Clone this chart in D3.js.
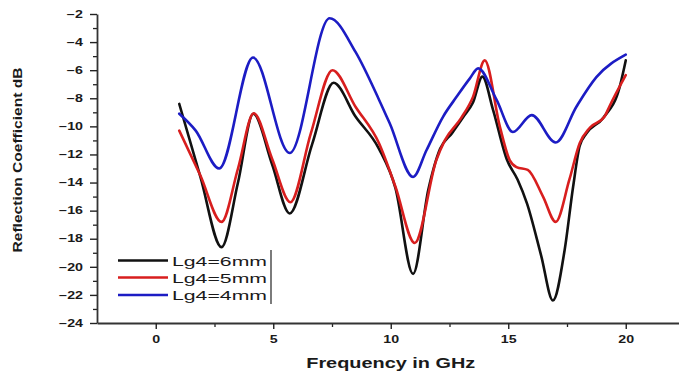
<!DOCTYPE html>
<html>
<head>
<meta charset="utf-8">
<script src="https://cdn.jsdelivr.net/npm/d3@7"></script>
<style>
  html, body { margin: 0; padding: 0; background: #fff; }
  svg { display: block; }
  text { font-family: "Liberation Sans", Arial, sans-serif; fill: #1a1a1a; }
</style>
</head>
<body>
<svg id="chart" width="679" height="377"></svg>
<script>
// Frequency (GHz) / reflection coefficient (dB) for each Lg4 length
const freq6mm = [1.0, 1.9, 2.8, 3.5, 4.15, 4.95, 5.7, 6.65, 7.57, 8.5, 9.5, 10.2, 10.95, 11.6, 12.1, 12.6, 13.1, 13.5, 13.9, 14.35, 14.95, 15.4, 15.8, 16.4, 16.9, 17.4, 17.76, 18.04, 18.33, 19.04, 19.74, 20.0];
const s11_6mm = [-8.4, -13.6, -18.6, -14.0, -9.1, -12.7, -16.2, -11.3, -6.9, -9.3, -11.6, -14.4, -20.5, -14.5, -11.6, -10.5, -9.3, -8.3, -6.46, -8.8, -12.4, -13.8, -15.5, -19.2, -22.4, -18.8, -14.3, -11.4, -10.5, -9.4, -7.2, -5.3];

const freq5mm = [1.0, 1.9, 2.8, 3.5, 4.17, 4.95, 5.73, 6.6, 7.52, 8.5, 9.5, 10.2, 11.02, 11.94, 12.3, 13.0, 13.5, 14.0, 14.64, 15.06, 15.35, 15.83, 16.48, 17.02, 17.6, 18.04, 18.47, 19.1, 19.3, 20.0];
const s11_5mm = [-10.3, -13.5, -16.8, -13.0, -9.07, -12.3, -15.4, -10.5, -6.0, -8.6, -11.2, -14.3, -18.3, -12.4, -11.0, -9.4, -7.9, -5.3, -10.0, -12.4, -12.9, -13.1, -15.0, -16.8, -13.8, -11.2, -10.1, -9.3, -8.6, -6.35];

const freq4mm = [1.0, 1.7, 2.7, 4.14, 5.7, 7.4, 8.5, 9.5, 9.96, 10.95, 11.52, 12.23, 12.8, 13.36, 13.72, 14.5, 15.2, 16.0, 17.02, 17.9, 18.75, 20.0];
const s11_4mm = [-9.1, -10.3, -13.0, -5.1, -11.9, -2.3, -4.7, -8.1, -9.8, -13.6, -11.7, -9.3, -7.9, -6.6, -5.87, -8.1, -10.4, -9.2, -11.15, -8.6, -6.5, -4.9];

const seriesNames = ["Lg4=6mm", "Lg4=5mm", "Lg4=4mm"];
const seriesColors = ["#111111", "#d81e1e", "#1c1cc4"];

const xMajorTicks = [0, 5, 10, 15, 20];
const xMinorTicks = [2.5, 7.5, 12.5, 17.5];
const yMajorTicks = [-2, -4, -6, -8, -10, -12, -14, -16, -18, -20, -22, -24];
const yMinorTicks = [-3, -5, -7, -9, -11, -13, -15, -17, -19, -21, -23];

const xTitle = "Frequency in GHz";
const yTitle = "Reflection Coefficient dB";

const series = [
  { name: seriesNames[0], color: seriesColors[0], pts: freq6mm.map((f, i) => [f, s11_6mm[i]]) },
  { name: seriesNames[1], color: seriesColors[1], pts: freq5mm.map((f, i) => [f, s11_5mm[i]]) },
  { name: seriesNames[2], color: seriesColors[2], pts: freq4mm.map((f, i) => [f, s11_4mm[i]]) }
];

const svg = d3.select("#chart");
const plotLeft = 97, plotTop = 14, plotBottom = 323;

const x = d3.scaleLinear().domain([-2.5, 22.5]).range([plotLeft, plotLeft + 25 * 23.5]);
const y = d3.scaleLinear().domain([-24, -2]).range([plotBottom, plotTop]);

// Widen glyphs horizontally (the text face is drawn broad)
const WIDEN = 1.42;
function widen(sel, k) {
  sel.each(function () {
    const w = this.getComputedTextLength();
    d3.select(this).attr("textLength", w * k).attr("lengthAdjust", "spacingAndGlyphs");
  });
}

// Minor ticks
svg.append("g")
  .attr("transform", `translate(0,${plotBottom})`)
  .call(d3.axisBottom(x).tickValues(xMinorTicks).tickSize(4).tickSizeOuter(0).tickFormat(""))
  .call(g => g.select(".domain").remove())
  .call(g => g.selectAll("line").attr("stroke", "#222").attr("stroke-width", 1.3));

svg.append("g")
  .attr("transform", `translate(${plotLeft},0)`)
  .call(d3.axisLeft(y).tickValues(yMinorTicks).tickSize(4).tickSizeOuter(0).tickFormat(""))
  .call(g => g.select(".domain").remove())
  .call(g => g.selectAll("line").attr("stroke", "#222").attr("stroke-width", 1.3));

// Major axes
const xAxisG = svg.append("g")
  .attr("transform", `translate(0,${plotBottom})`)
  .call(d3.axisBottom(x).tickValues(xMajorTicks).tickSize(6).tickSizeOuter(0).tickPadding(7).tickFormat(d3.format("d")));
xAxisG.select(".domain").attr("stroke", "#333").attr("stroke-width", 1.8);
xAxisG.selectAll("line").attr("stroke", "#222").attr("stroke-width", 1.4);
xAxisG.selectAll("text")
  .style("font-size", "10px").style("font-weight", "bold").attr("fill", "#1a1a1a")
  .call(widen, WIDEN);

const yAxisG = svg.append("g")
  .attr("transform", `translate(${plotLeft},0)`)
  .call(d3.axisLeft(y).tickValues(yMajorTicks).tickSize(7).tickSizeOuter(0).tickPadding(7).tickFormat(d3.format("d")));
yAxisG.select(".domain").attr("stroke", "#333").attr("stroke-width", 1.8);
yAxisG.selectAll("line").attr("stroke", "#222").attr("stroke-width", 1.4);
yAxisG.selectAll("text")
  .style("font-size", "10px").style("font-weight", "bold").attr("fill", "#1a1a1a")
  .call(widen, WIDEN);

// Axis titles
svg.append("text")
  .attr("x", x(10)).attr("y", 368)
  .attr("text-anchor", "middle")
  .style("font-size", "14px").style("font-weight", "bold")
  .text(xTitle)
  .call(widen, WIDEN);

svg.append("text")
  .attr("transform", `translate(22,${160}) rotate(-90)`)
  .attr("text-anchor", "middle")
  .style("font-size", "13px").style("font-weight", "bold")
  .attr("textLength", 185).attr("lengthAdjust", "spacingAndGlyphs")
  .text(yTitle);

// Curves
const line = d3.line()
  .x(d => x(d[0]))
  .y(d => y(d[1]))
  .curve(d3.curveMonotoneX);

svg.append("g").selectAll("path")
  .data(series)
  .join("path")
  .attr("d", d => line(d.pts))
  .attr("fill", "none")
  .attr("stroke", d => d.color)
  .attr("stroke-width", 2.6)
  .attr("stroke-linejoin", "round")
  .attr("stroke-linecap", "round");

// Legend
const legendRows = [260.5, 277.5, 295];
const legend = svg.append("g");
legend.selectAll("line.key")
  .data(series)
  .join("line")
  .attr("class", "key")
  .attr("x1", 118).attr("x2", 168)
  .attr("y1", (d, i) => legendRows[i]).attr("y2", (d, i) => legendRows[i])
  .attr("stroke", d => d.color)
  .attr("stroke-width", 2.4);
legend.selectAll("text")
  .data(series)
  .join("text")
  .attr("x", 172)
  .attr("y", (d, i) => legendRows[i] + 5)
  .style("font-size", "13px")
  .attr("textLength", 95).attr("lengthAdjust", "spacingAndGlyphs")
  .text(d => d.name);
legend.append("line")
  .attr("x1", 271).attr("x2", 271)
  .attr("y1", 250).attr("y2", 304)
  .attr("stroke", "#444").attr("stroke-width", 1.4);
</script>
</body>
</html>
